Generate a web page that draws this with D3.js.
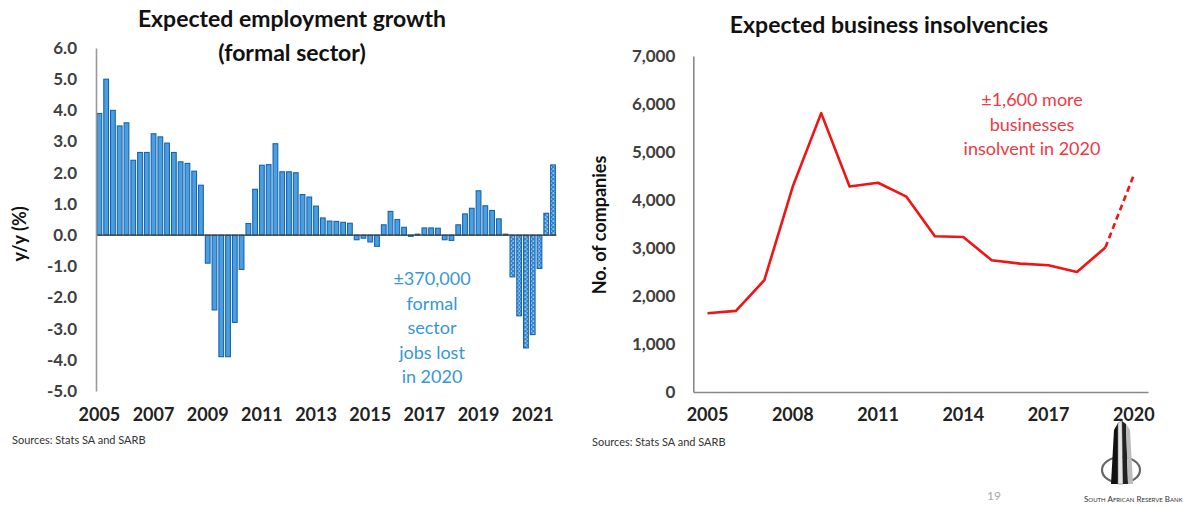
<!DOCTYPE html>
<html>
<head>
<meta charset="utf-8">
<script src="https://cdn.jsdelivr.net/npm/d3@7"></script>
<style>
  html, body { margin: 0; padding: 0; background: #fff; }
  svg { display: block; font-family: Lato, "Open Sans", sans-serif; }
</style>
</head>
<body>
<svg id="chart" width="1183" height="506"></svg>
<script>
// ---- Employment growth (quarterly, y/y %) ----
const employmentYears = [2005, 2006, 2007, 2008, 2009, 2010, 2011, 2012, 2013, 2014, 2015, 2016, 2017, 2018, 2019, 2020, 2021];
const quarterNames = ["Q1", "Q2", "Q3", "Q4"];
const employmentGrowth = [
  3.9, 5.0, 4.0, 3.5,
  3.6, 2.4, 2.65, 2.65,
  3.25, 3.15, 2.95, 2.65,
  2.35, 2.3, 2.05, 1.6,
  -0.9, -2.4, -3.9, -3.9,
  -2.8, -1.1, 0.37, 1.47,
  2.24, 2.26, 2.93, 2.03,
  2.03, 2.0, 1.3, 1.22,
  0.93, 0.55, 0.45, 0.44,
  0.41, 0.38, -0.15, -0.1,
  -0.22, -0.36, 0.33, 0.76,
  0.5, 0.25, -0.04, 0.03,
  0.23, 0.23, 0.22, -0.15,
  -0.17, 0.33, 0.68, 0.86,
  1.42, 0.94, 0.79, 0.52,
  0.03, -1.34, -2.59, -3.62,
  -3.19, -1.07, 0.7, 2.25
];
const forecastStart = "2020Q2";
const employmentTicks = [6, 5, 4, 3, 2, 1, 0, -1, -2, -3, -4, -5];
const employmentTickYears = [2005, 2007, 2009, 2011, 2013, 2015, 2017, 2019, 2021];
const employmentNote = ["\u00b1370,000", "formal", "sector", "jobs lost", "in 2020"];

// ---- Business insolvencies (annual, number of companies) ----
const insolvencyYears = [2005, 2006, 2007, 2008, 2009, 2010, 2011, 2012, 2013, 2014, 2015, 2016, 2017, 2018, 2019, 2020];
const insolvencies = [1640, 1690, 2330, 4280, 5810, 4280, 4360, 4070, 3245, 3230, 2745, 2675, 2640, 2500, 3010, 4520];
const projectedFrom = 2019;
const insolvencyTicks = [0, 1000, 2000, 3000, 4000, 5000, 6000, 7000];
const insolvencyTickYears = [2005, 2008, 2011, 2014, 2017, 2020];
const insolvencyNote = ["\u00b11,600 more", "businesses", "insolvent in 2020"];

const sourceText = "Sources: Stats SA and SARB";

const svg = d3.select("#chart");
const defs = svg.append("defs");

// dotted fill for the forecast quarters
const pat = defs.append("pattern")
  .attr("id", "forecastFill")
  .attr("patternUnits", "userSpaceOnUse")
  .attr("width", 4).attr("height", 4);
pat.append("rect").attr("width", 4).attr("height", 4).attr("fill", "#2f86d1");
pat.append("rect").attr("x", 0.5).attr("y", 0.5).attr("width", 2).attr("height", 1.2).attr("fill", "#bfe3fb");
pat.append("rect").attr("x", 2.5).attr("y", 2.5).attr("width", 1.5).attr("height", 1.2).attr("fill", "#bfe3fb");

// ================= Left panel =================
const quarters = [];
employmentYears.forEach(y => quarterNames.forEach(q => quarters.push(y + q)));
const empData = quarters.map((q, i) => ({ q, v: employmentGrowth[i] }));
const forecastIdx = quarters.indexOf(forecastStart);

const xE = d3.scaleBand().domain(quarters).range([96, 556.4]).paddingInner(0.3).paddingOuter(0.15);
const yE = d3.scaleLinear().domain([-5, 6]).range([391, 48]);

svg.append("text")
  .attr("x", 292).attr("y", 27)
  .attr("text-anchor", "middle")
  .attr("font-size", 23).attr("font-weight", 700).attr("fill", "#111")
  .text("Expected employment growth");
svg.append("text")
  .attr("x", 292).attr("y", 61)
  .attr("text-anchor", "middle")
  .attr("font-size", 23).attr("font-weight", 700).attr("fill", "#111")
  .text("(formal sector)");

// bars
svg.append("g").selectAll("rect")
  .data(empData)
  .join("rect")
  .attr("x", d => xE(d.q))
  .attr("width", xE.bandwidth())
  .attr("y", d => yE(Math.max(0, d.v)))
  .attr("height", d => Math.abs(yE(d.v) - yE(0)))
  .attr("fill", (d, i) => i >= forecastIdx ? "url(#forecastFill)" : "#4a9fe0")
  .attr("stroke", "#1763b0")
  .attr("stroke-width", 1.1);

// zero line
svg.append("line")
  .attr("x1", 96).attr("x2", 556.4)
  .attr("y1", yE(0)).attr("y2", yE(0))
  .attr("stroke", "#3a3a3a").attr("stroke-width", 1.3);

// y axis
const yAxisE = svg.append("g")
  .attr("transform", "translate(96,0)")
  .call(d3.axisLeft(yE).tickValues(employmentTicks).tickFormat(d => d.toFixed(1)).tickSize(0).tickPadding(19));
yAxisE.select(".domain").attr("stroke", "#999").attr("stroke-width", 1.6);
yAxisE.selectAll("text").attr("font-size", 17).attr("font-weight", 700).attr("fill", "#404040").attr("font-family", "Lato, sans-serif");

// x axis (labels only, at Q1 of every second year)
const xAxisE = svg.append("g")
  .attr("transform", "translate(0,392)")
  .call(d3.axisBottom(xE)
    .tickValues(employmentTickYears.map(y => y + "Q1"))
    .tickFormat(d => d.slice(0, 4))
    .tickSize(0).tickPadding(16));
xAxisE.select(".domain").remove();
xAxisE.selectAll("text").attr("font-size", 18).attr("font-weight", 700).attr("fill", "#222").attr("font-family", "Lato, sans-serif");

svg.append("text")
  .attr("transform", "translate(26,234) rotate(-90)")
  .attr("text-anchor", "middle")
  .attr("font-size", 18).attr("font-weight", 700).attr("fill", "#111")
  .text("y/y (%)");

svg.append("g").selectAll("text")
  .data(employmentNote)
  .join("text")
  .attr("x", 432)
  .attr("y", (d, i) => 285 + i * 24.6)
  .attr("text-anchor", "middle")
  .attr("font-size", 18).attr("fill", "#3797d8")
  .text(d => d);

svg.append("text")
  .attr("x", 12).attr("y", 444)
  .attr("font-size", 11).attr("fill", "#333")
  .text(sourceText);

// ================= Right panel =================
const insData = insolvencyYears.map((y, i) => ({ y, v: insolvencies[i] }));
const xI = d3.scaleBand().domain(insolvencyYears).range([693.3, 1148]);
const yI = d3.scaleLinear().domain([0, 7000]).range([392, 56]);
const cx = d => xI(d.y) + xI.bandwidth() / 2;

svg.append("text")
  .attr("x", 889).attr("y", 33)
  .attr("text-anchor", "middle")
  .attr("font-size", 23).attr("font-weight", 700).attr("fill", "#111")
  .text("Expected business insolvencies");

const yAxisI = svg.append("g")
  .attr("transform", "translate(693.3,0)")
  .call(d3.axisLeft(yI).tickValues(insolvencyTicks).tickFormat(d3.format(",")).tickSize(0).tickPadding(18));
yAxisI.select(".domain").attr("stroke", "#888").attr("stroke-width", 1.6);
yAxisI.selectAll("text").attr("font-size", 17).attr("font-weight", 700).attr("fill", "#404040").attr("font-family", "Lato, sans-serif");

const xAxisI = svg.append("g")
  .attr("transform", "translate(0,392)")
  .call(d3.axisBottom(xI).tickValues(insolvencyTickYears).tickSize(0).tickSizeOuter(0).tickPadding(16));
xAxisI.select(".domain").attr("stroke", "#888").attr("stroke-width", 1.6);
xAxisI.selectAll("text").attr("font-size", 18).attr("font-weight", 700).attr("fill", "#222").attr("font-family", "Lato, sans-serif");

const line = d3.line().x(cx).y(d => yI(d.v));
svg.append("path")
  .datum(insData.filter(d => d.y <= projectedFrom))
  .attr("d", line)
  .attr("fill", "none").attr("stroke", "#f01414").attr("stroke-width", 2.6)
  .attr("stroke-linejoin", "round");
svg.append("path")
  .datum(insData.filter(d => d.y >= projectedFrom))
  .attr("d", line)
  .attr("fill", "none").attr("stroke", "#f01414").attr("stroke-width", 2.6)
  .attr("stroke-dasharray", "6,4");

svg.append("text")
  .attr("transform", "translate(606,225) rotate(-90)")
  .attr("text-anchor", "middle")
  .attr("font-size", 18).attr("font-weight", 700).attr("fill", "#111")
  .text("No. of companies");

svg.append("g").selectAll("text")
  .data(insolvencyNote)
  .join("text")
  .attr("x", 1032)
  .attr("y", (d, i) => 106 + i * 24.6)
  .attr("text-anchor", "middle")
  .attr("font-size", 18).attr("fill", "#ef3a42")
  .text(d => d);

svg.append("text")
  .attr("x", 592).attr("y", 446)
  .attr("font-size", 11).attr("fill", "#333")
  .text(sourceText);

// ================= Footer: page number and bank mark =================
svg.append("text")
  .attr("x", 994).attr("y", 500)
  .attr("text-anchor", "middle")
  .attr("font-size", 12).attr("fill", "#aaa")
  .text("19");

const logo = svg.append("g").attr("transform", "translate(1121,0)");
logo.append("ellipse")
  .attr("cx", 0).attr("cy", 470).attr("rx", 19).attr("ry", 13)
  .attr("fill", "none").attr("stroke", "#666").attr("stroke-width", 2.2);
logo.append("path").attr("d", "M-10,484 L-7,430 L-3,423 L-3,484 Z").attr("fill", "#111");
logo.append("path").attr("d", "M-3,484 L-3,423 L1,421 L2,484 Z").attr("fill", "#e6e6e6").attr("stroke", "#777").attr("stroke-width", 0.6);
logo.append("path").attr("d", "M2,484 L1,421 L5,424 L7,484 Z").attr("fill", "#222");
logo.append("path").attr("d", "M7,484 L5,424 L9,430 L12,484 Z").attr("fill", "#bbb");
svg.append("text")
  .attr("x", 1084).attr("y", 502)
  .attr("font-size", 8).attr("fill", "#333")
  .attr("font-variant", "small-caps")
  .text("South African Reserve Bank");
</script>
</body>
</html>
